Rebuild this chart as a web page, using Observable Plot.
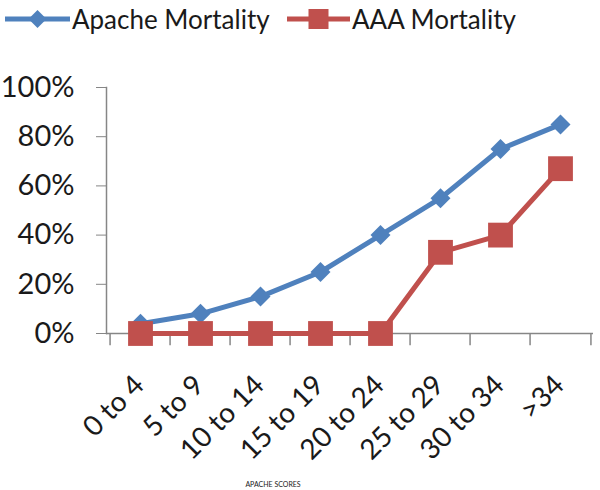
<!DOCTYPE html>
<html><head><meta charset="utf-8">
<script src="https://cdn.jsdelivr.net/npm/d3@7"></script>
<script src="https://cdn.jsdelivr.net/npm/@observablehq/plot@0.6"></script>
<style>
body{margin:0;background:#fff;font-family:Lato,sans-serif;}
#legend{height:40px;}
svg{display:block;}
</style>
</head><body><div id="legend"></div><div id="chart"></div>
<script>
const categories = ["0 to 4","5 to 9","10 to 14","15 to 19","20 to 24","25 to 29","30 to 34",">34"];
const apacheMortality = [0.04,0.08,0.15,0.25,0.40,0.55,0.75,0.85];
const aaaMortality = [0,0,0,0,0,0.33,0.40,0.67];
const yTicks = [0,0.2,0.4,0.6,0.8,1];
const seriesNames = ["Apache Mortality","AAA Mortality"];
const seriesColors = ["#4F81BD","#C0504D"];
const xTitle = "APACHE SCORES";

const apache = categories.map((c,i)=>({cat:c, v:apacheMortality[i]}));
const aaa = categories.map((c,i)=>({cat:c, v:aaaMortality[i]}));

const W = 600, H = 450, mL = 106, mR = 7, mT = 47, mB = 157;
const half = (W - mL - mR) / categories.length / 2;
const textColor = "#1a1a1a", axisColor = "#868686";

// Legend
const lg = d3.select("#legend").append("svg").attr("width", W).attr("height", 40);
const items = [{x:5, w:65, tx:72, sym:"diamond"},{x:287, w:63, tx:352, sym:"square"}];
items.forEach((it,i)=>{
  const g = lg.append("g");
  g.append("line").attr("x1",it.x).attr("x2",it.x+it.w).attr("y1",19).attr("y2",19)
    .attr("stroke",seriesColors[i]).attr("stroke-width",5);
  const cx = it.x + it.w/2;
  if (it.sym==="diamond") g.append("path").attr("d",`M${cx},${19-9}L${cx+9},19L${cx},${19+9}L${cx-9},19Z`).attr("fill",seriesColors[i]);
  else g.append("rect").attr("x",cx-10).attr("y",9).attr("width",20).attr("height",20).attr("fill",seriesColors[i]);
  g.append("text").attr("x",it.tx).attr("y",29).attr("font-size",26).attr("fill",textColor)
    .attr("font-family","Lato, sans-serif").text(seriesNames[i]);
});

const chart = Plot.plot({
  width: W, height: H,
  marginLeft: mL, marginRight: mR, marginTop: mT, marginBottom: mB,
  style: {fontFamily: "Lato, sans-serif", background: "#fff", color: textColor},
  x: {type: "point", domain: categories, padding: 0.5, axis: null, label: null},
  y: {domain: [0,1], axis: null, label: null},
  marks: [
    Plot.ruleY([0], {stroke: axisColor, strokeWidth: 1.5}),
    Plot.frame({anchor: "left", stroke: axisColor, strokeWidth: 1.5}),
    Plot.ruleX(categories, {x: d=>d, y1: 0, y2: -0.05, dx: -half, stroke: axisColor, strokeWidth: 1.5}),
    Plot.ruleX(categories.slice(-1), {x: d=>d, y1: 0, y2: -0.05, dx: half, stroke: axisColor, strokeWidth: 1.5}),
    Plot.axisY({ticks: yTicks, tickFormat: d => Math.round(d*100) + "%", fontSize: 29, tickSize: 10, tickPadding: 22, stroke: axisColor, fill: textColor, label: null}),
    Plot.axisX({tickRotate: -45, tickSize: 0, tickPadding: 47, fontSize: 28, dx: -1, fill: textColor, label: null}),
    Plot.line(apache, {x: "cat", y: "v", stroke: seriesColors[0], strokeWidth: 5}),
    Plot.dot(apache, {x: "cat", y: "v", symbol: "diamond2", r: 9, fill: seriesColors[0], stroke: "none"}),
    Plot.line(aaa, {x: "cat", y: "v", stroke: seriesColors[1], strokeWidth: 5}),
    Plot.dot(aaa, {x: "cat", y: "v", symbol: "square", r: 14, fill: seriesColors[1], stroke: "none"}),
    Plot.text([xTitle], {frameAnchor: "bottom", dy: 153, dx: -77, fontSize: 7, fill: textColor})
  ]
});
document.getElementById("chart").appendChild(chart);
</script>
</body></html>
